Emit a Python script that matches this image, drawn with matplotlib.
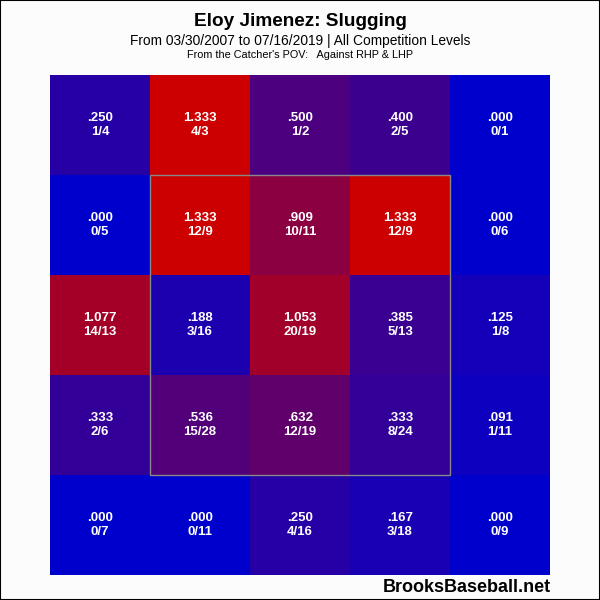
import numpy as np
import matplotlib
matplotlib.use("Agg")
import matplotlib.pyplot as plt
import matplotlib.patches as patches
from matplotlib.colors import LinearSegmentedColormap

plt.rcParams['font.family'] = ['Liberation Sans', 'DejaVu Sans']

# zone values, top row first (catcher's POV)
slg = [
    [0.250, 1.333, 0.500, 0.400, 0.000],
    [0.000, 1.333, 0.909, 1.333, 0.000],
    [1.077, 0.188, 1.053, 0.385, 0.125],
    [0.333, 0.536, 0.632, 0.333, 0.091],
    [0.000, 0.000, 0.250, 0.167, 0.000],
]
slg_labels = [
    [".250", "1.333", ".500", ".400", ".000"],
    [".000", "1.333", ".909", "1.333", ".000"],
    ["1.077", ".188", "1.053", ".385", ".125"],
    [".333", ".536", ".632", ".333", ".091"],
    [".000", ".000", ".250", ".167", ".000"],
]
tb_ab = [
    ["1/4", "4/3", "1/2", "2/5", "0/1"],
    ["0/5", "12/9", "10/11", "12/9", "0/6"],
    ["14/13", "3/16", "20/19", "5/13", "1/8"],
    ["2/6", "15/28", "12/19", "8/24", "1/11"],
    ["0/7", "0/11", "4/16", "3/18", "0/9"],
]

cmap = LinearSegmentedColormap.from_list("br", ["#0000CC", "#CC0000"])

fig = plt.figure(figsize=(6, 6), dpi=100)
fig.patch.set_facecolor("#FCFCFC")
ax = fig.add_axes([50/600, 25/600, 500/600, 500/600])
ax.imshow(np.array(slg), cmap=cmap, vmin=0, vmax=1.333,
          extent=(0, 5, 5, 0), interpolation="nearest", aspect="auto")
ax.set_xlim(0, 5)
ax.set_ylim(5, 0)
ax.axis("off")

for r in range(5):
    for c in range(5):
        ax.text(c + 0.5, r + 0.43, slg_labels[r][c], color="white", fontsize=9.5,
                fontweight="bold", ha="center", va="center")
        ax.text(c + 0.5, r + 0.57, tb_ab[r][c], color="white", fontsize=9.5,
                fontweight="bold", ha="center", va="center")

# strike zone
ax.add_patch(patches.Rectangle((1, 1), 3, 3, fill=False, edgecolor="#888888", linewidth=1))

fig.text(0.5, 1 - 22/600, "Eloy Jimenez: Slugging", ha="center", va="center",
         fontsize=13.7, fontweight="bold")
fig.text(0.5, 1 - 41/600, "From 03/30/2007 to 07/16/2019 | All Competition Levels",
         ha="center", va="center", fontsize=9.9)
fig.text(0.5, 1 - 55/600, "From the Catcher's POV:   Against RHP & LHP",
         ha="center", va="center", fontsize=7.8)
fig.text(551/600, 1 - 588/600, "BrooksBaseball.net", ha="right", va="center",
         fontsize=13, fontweight="bold")

fig.patches.append(patches.Rectangle((0, 0), 1, 1, transform=fig.transFigure,
                                     fill=False, edgecolor="black", linewidth=1.5))

plt.savefig("out.png", dpi=100, facecolor=fig.get_facecolor())
